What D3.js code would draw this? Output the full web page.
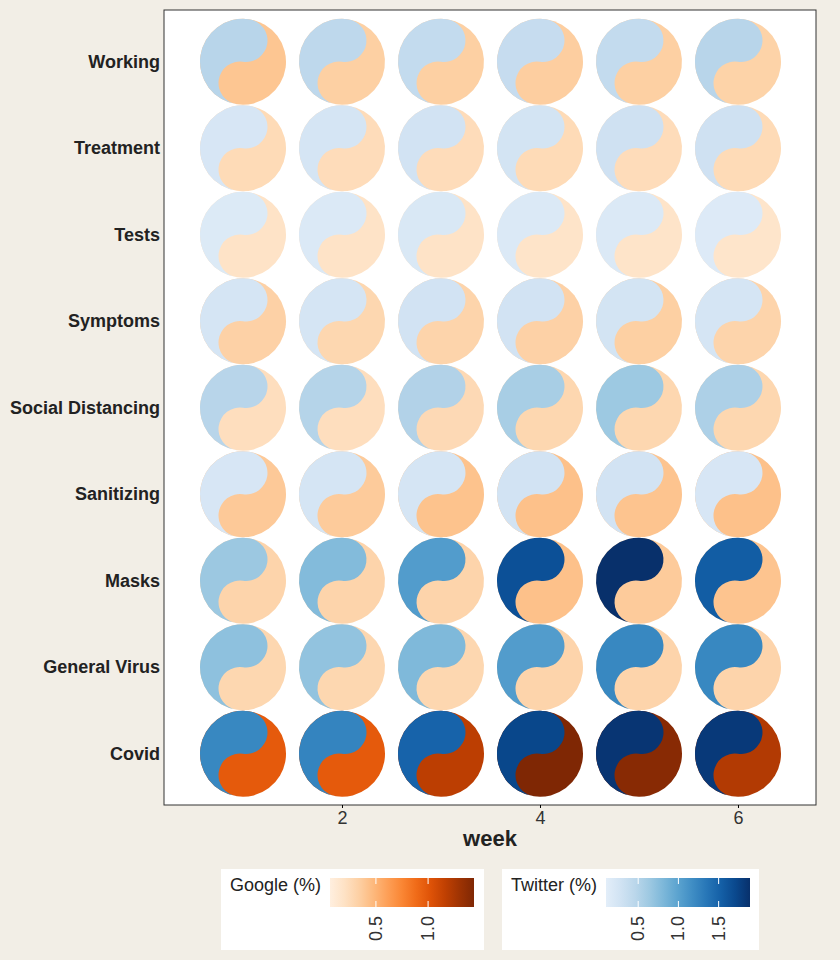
<!DOCTYPE html>
<html><head><meta charset="utf-8">
<script src="https://cdn.jsdelivr.net/npm/d3@7"></script>
<style>body{margin:0;background:#f2eee6;font-family:"Liberation Sans",Arial,sans-serif}</style>
</head><body>
<svg id="c" width="840" height="960"></svg>
<script>
const categories=["Working","Treatment","Tests","Symptoms","Social Distancing","Sanitizing","Masks","General Virus","Covid"];
const weeks=[1,2,3,4,5,6];
const googleVals=[
 [0.40,0.34,0.34,0.35,0.34,0.32],
 [0.26,0.25,0.25,0.26,0.25,0.26],
 [0.19,0.19,0.19,0.18,0.18,0.17],
 [0.33,0.29,0.31,0.33,0.34,0.31],
 [0.23,0.23,0.27,0.29,0.29,0.29],
 [0.38,0.37,0.42,0.43,0.41,0.43],
 [0.31,0.31,0.31,0.43,0.37,0.41],
 [0.29,0.29,0.29,0.31,0.31,0.31],
 [0.98,0.98,1.18,1.44,1.40,1.22]];
const twitterVals=[
 [0.48,0.44,0.40,0.38,0.40,0.48],
 [0.22,0.24,0.27,0.26,0.30,0.30],
 [0.17,0.18,0.20,0.18,0.18,0.16],
 [0.24,0.24,0.27,0.27,0.26,0.24],
 [0.48,0.50,0.52,0.58,0.64,0.55],
 [0.22,0.24,0.24,0.27,0.27,0.22],
 [0.65,0.78,1.05,1.65,1.95,1.55],
 [0.72,0.70,0.80,1.05,1.22,1.22],
 [1.22,1.25,1.50,1.72,1.85,1.82]];
const gTicks=[0.5,1.0], tTicks=[0.5,1.0,1.5];
const gDom=[0.06,1.44], tDom=[0.1,1.89];

const svg=d3.select("#c");
const L=164,R=816,T=10,B=805;
const x=d3.scaleLinear().domain([0.202,6.788]).range([L,R]);
const y=d3.scaleBand().domain(categories).range([18.5,797]);
const gCol=v=>d3.interpolateOranges(0.05+0.95*(v-gDom[0])/(gDom[1]-gDom[0]));
const tCol=v=>d3.interpolateBlues(0.1+0.9*(v-tDom[0])/(tDom[1]-tDom[0]));
svg.append("rect").attr("x",L).attr("y",T).attr("width",R-L).attr("height",B-T).attr("fill","#fff").attr("stroke","#333");
const r=43;
const blue=`M0,${-r}A${r},${r} 0 0 0 0,${r}A${r/2},${r/2} 0 0 1 0,0A${r/2},${r/2} 0 0 0 0,${-r}Z`;
categories.forEach((c,i)=>weeks.forEach((w,j)=>{
  const g=svg.append("g").attr("transform",`translate(${x(w)},${y(c)+y.bandwidth()/2}) rotate(8)`);
  g.append("circle").attr("r",r).attr("fill",gCol(googleVals[i][j]));
  g.append("path").attr("d",blue).attr("fill",tCol(twitterVals[i][j]));
}));
svg.selectAll(".yl").data(categories).enter().append("text").attr("x",160).attr("y",d=>y(d)+y.bandwidth()/2+6)
 .attr("text-anchor","end").attr("font-weight","bold").attr("font-size",18).attr("fill","#222").text(d=>d);
const xa=svg.append("g").attr("transform",`translate(0,${B})`).call(d3.axisBottom(x).tickValues([2,4,6]).tickFormat(d3.format("d")).tickSize(3));
xa.select(".domain").remove();
xa.selectAll("text").attr("font-size",18).attr("fill","#333").attr("font-family","Liberation Sans");
svg.append("text").attr("x",490).attr("y",846).attr("text-anchor","middle").attr("font-weight","bold").attr("font-size",22).attr("fill","#222").text("week");

function legend(bx,bw,title,barX,barW,dom,ticks,interp,t0){
  svg.append("rect").attr("x",bx).attr("y",869).attr("width",bw).attr("height",81).attr("fill","#fff");
  svg.append("text").attr("x",bx+9).attr("y",891).attr("font-size",18).attr("fill","#222").text(title);
  const id="g"+bx;
  const gr=svg.append("defs").append("linearGradient").attr("id",id);
  d3.range(0,1.01,0.1).forEach(t=>gr.append("stop").attr("offset",t).attr("stop-color",interp(t0+(1-t0)*t)));
  svg.append("rect").attr("x",barX).attr("y",878).attr("width",barW).attr("height",29).attr("fill",`url(#${id})`);
  const s=d3.scaleLinear().domain(dom).range([barX,barX+barW]);
  ticks.forEach(v=>{
    svg.append("line").attr("x1",s(v)).attr("x2",s(v)).attr("y1",878).attr("y2",884).attr("stroke","#fff");
    svg.append("line").attr("x1",s(v)).attr("x2",s(v)).attr("y1",901).attr("y2",907).attr("stroke","#fff");
    svg.append("text").attr("transform",`translate(${s(v)+6},941) rotate(-90)`).attr("font-size",18).attr("fill","#333").text(v.toFixed(1));
  });
}
legend(221,263,"Google (%)",330,144,gDom,gTicks,d3.interpolateOranges,0.05);
legend(502,257,"Twitter (%)",606,144,tDom,tTicks,d3.interpolateBlues,0.1);
</script></body></html>
